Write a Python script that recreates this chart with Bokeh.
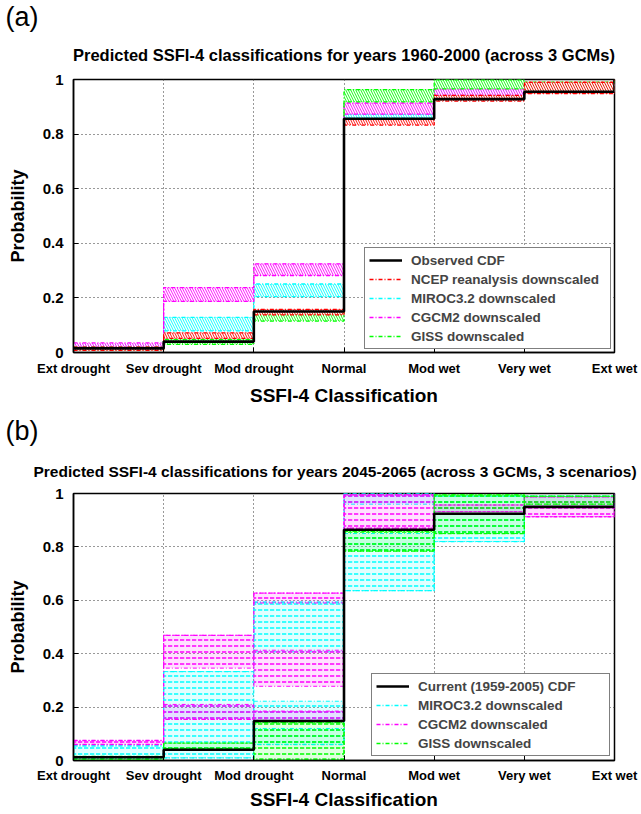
from bokeh.plotting import figure
from bokeh.models import (Range1d, FixedTicker, Title, Legend, LegendItem,
                          NumeralTickFormatter)
from bokeh.layouts import column
from bokeh.embed import file_html
from bokeh.resources import INLINE

FONT = "Liberation Sans"

# ---------------- data ----------------
CATEGORIES = ["Ext drought", "Sev drought", "Mod drought", "Normal",
              "Mod wet", "Very wet", "Ext wet"]
CAT_X = [0, 1, 2, 3, 4, 5, 6]
Y_TICKS = [0, 0.2, 0.4, 0.6, 0.8, 1]

# Panel (a): predicted CDF per class, 1960-2000 (last class = 1)
A_OBSERVED = [0.015, 0.040, 0.150, 0.856, 0.928, 0.955, 1.0]
A_NCEP_LO = [0.008, 0.052, 0.138, 0.833, 0.921, 0.948, 1.0]
A_NCEP_HI = [0.020, 0.072, 0.158, 0.855, 0.942, 0.990, 1.0]
A_MIROC_LO = [0.015, 0.079, 0.205, 0.858, 0.935, 0.955, 1.0]
A_MIROC_HI = [0.030, 0.129, 0.251, 0.873, 0.960, 0.985, 1.0]
A_CGCM2_LO = [0.020, 0.187, 0.282, 0.873, 0.942, 0.955, 1.0]
A_CGCM2_HI = [0.035, 0.238, 0.325, 0.914, 0.966, 0.985, 1.0]
A_GISS_LO = [0.010, 0.030, 0.115, 0.918, 0.966, 0.960, 1.0]
A_GISS_HI = [0.020, 0.048, 0.153, 0.963, 0.999, 0.990, 1.0]

# Panel (b): 2045-2065, bands of scenario lines (class, low, high)
B_CURRENT = [0.012, 0.040, 0.148, 0.864, 0.924, 0.950, 1.0]
B_MIROC_CLASS = [0, 1, 2, 2, 2, 3, 3, 4, 5]
B_MIROC_LO = [0.008, 0.010, 0.060, 0.150, 0.407, 0.636, 0.960, 0.820, 0.950]
B_MIROC_HI = [0.055, 0.333, 0.120, 0.222, 0.593, 0.850, 1.000, 0.990, 0.990]
B_CGCM2_CLASS = [0, 1, 1, 2, 2, 2, 3, 4, 5]
B_CGCM2_LO = [0.060, 0.154, 0.346, 0.150, 0.278, 0.590, 0.870, 0.932, 0.913]
B_CGCM2_HI = [0.075, 0.210, 0.469, 0.185, 0.413, 0.627, 0.995, 0.957, 0.987]
B_GISS_CLASS = [0, 1, 2, 3, 4, 5]
B_GISS_LO = [0.005, 0.045, 0.005, 0.784, 0.850, 0.960]
B_GISS_HI = [0.015, 0.065, 0.142, 0.858, 0.995, 0.990]
B_EXT_WET = 1.0

TITLE_A = "Predicted SSFI-4 classifications for years 1960-2000 (across 3 GCMs)"
TITLE_B = "Predicted SSFI-4 classifications for years 2045-2065 (across 3 GCMs, 3 scenarios)"

RED, CYAN, MAGENTA, GREEN = "#ff0000", "#00ffff", "#ff00ff", "#00ff00"
DASHDOT = "4 2 1 2"


def base_figure(height, top, bottom, tick_standoff, label_standoff):
    p = figure(width=641, height=height, x_range=Range1d(0, 6),
               y_range=Range1d(0, 1), output_backend="svg",
               toolbar_location=None, min_border_left=73,
               min_border_right=27, min_border_top=top,
               min_border_bottom=bottom, background_fill_color="white")
    p.outline_line_color = "black"
    p.outline_line_width = 1.5
    p.xaxis.ticker = FixedTicker(ticks=CAT_X)
    p.xaxis.major_label_overrides = {k: c for k, c in zip(CAT_X, CATEGORIES)}
    p.yaxis.ticker = FixedTicker(ticks=Y_TICKS)
    p.yaxis.formatter = NumeralTickFormatter(format="0.[0]")
    for ax in (p.xaxis, p.yaxis):
        ax.axis_line_color = "black"
        ax.axis_line_width = 1.5
        ax.major_tick_in = 5
        ax.major_tick_out = 0
        ax.major_tick_line_color = "black"
        ax.minor_tick_line_color = None
        ax.major_label_text_font = FONT
        ax.major_label_text_font_style = "bold"
        ax.major_label_text_color = "black"
        ax.axis_label_text_font = FONT
        ax.axis_label_text_font_style = "bold"
        ax.axis_label_text_color = "black"
    p.xaxis.major_label_text_font_size = "13px"
    p.yaxis.major_label_text_font_size = "15px"
    p.xaxis.major_label_standoff = tick_standoff
    p.yaxis.major_label_standoff = 10
    p.xaxis.axis_label = "SSFI-4 Classification"
    p.yaxis.axis_label = "Probability"
    p.xaxis.axis_label_text_font_size = "19px"
    p.yaxis.axis_label_text_font_size = "18px"
    p.xaxis.axis_label_standoff = label_standoff
    p.yaxis.axis_label_standoff = 12
    for g in (p.xgrid, p.ygrid):
        g.grid_line_color = "#333333"
        g.grid_line_dash = "1 3"
        g.grid_line_width = 1
    return p


def add_titles(p, text, tag, title_kw, tag_standoff):
    p.add_layout(Title(text=text, text_font=FONT, text_font_style="bold",
                       text_color="black", **title_kw), "above")
    p.add_layout(Title(text=tag, align="left", offset=-68, text_font=FONT,
                       text_font_size="27px", text_font_style="normal",
                       text_color="black", standoff=tag_standoff), "above")


def make_legend(p, items, margin, label_width):
    leg = Legend(items=[LegendItem(label=l, renderers=[r]) for l, r in items],
                 location="bottom_right", label_text_font=FONT,
                 label_text_font_size="13.5px", label_text_font_style="bold",
                 glyph_width=33, glyph_height=16, label_height=16,
                 label_width=label_width, label_standoff=9, spacing=3,
                 padding=4, margin=margin, border_line_color="black",
                 border_line_width=1.5, background_fill_alpha=1)
    p.add_layout(leg)


# ---------------- panel (a) ----------------
pa = base_figure(408, 79, 53, 8, 6)
add_titles(pa, TITLE_A, "(a)",
           dict(align="center", text_font_size="16.5px", standoff=31), -7)

a_models = [(A_MIROC_LO, A_MIROC_HI, CYAN), (A_CGCM2_LO, A_CGCM2_HI, MAGENTA),
            (A_GISS_LO, A_GISS_HI, GREEN), (A_NCEP_LO, A_NCEP_HI, RED)]
a_line = {}
for lo, hi, col in a_models:
    pa.quad(left=CAT_X[:-1], right=CAT_X[1:], bottom=lo[:-1], top=hi[:-1],
            fill_color=col, fill_alpha=0.85, line_color=None,
            hatch_pattern="left_diagonal_line", hatch_color="white",
            hatch_scale=5, hatch_weight=1.3)
    r = pa.step(CAT_X, lo, mode="after", line_color=col, line_width=1.3,
                line_dash=DASHDOT)
    pa.step(CAT_X, hi, mode="after", line_color=col, line_width=1.3,
            line_dash=DASHDOT)
    a_line[col] = r
r_obs = pa.step(CAT_X, A_OBSERVED, mode="after", line_color="black",
                line_width=2.6)
make_legend(pa, [("Observed CDF", r_obs),
                 ("NCEP reanalysis downscaled", a_line[RED]),
                 ("MIROC3.2 downscaled", a_line[CYAN]),
                 ("CGCM2 downscaled", a_line[MAGENTA]),
                 ("GISS downscaled", a_line[GREEN])], 3, 195)

# ---------------- panel (b) ----------------
pb = base_figure(404, 85, 49, 7, 3)
add_titles(pb, TITLE_B, "(b)",
           dict(align="left", offset=-40, text_font_size="15.5px", standoff=28), 2)


def envelope(cls, vals, fn):
    out = [fn(v for c, v in zip(cls, vals) if c == k) for k in CAT_X[:-1]]
    return out + [B_EXT_WET]


b_models = [(B_MIROC_CLASS, B_MIROC_LO, B_MIROC_HI, CYAN),
            (B_CGCM2_CLASS, B_CGCM2_LO, B_CGCM2_HI, MAGENTA),
            (B_GISS_CLASS, B_GISS_LO, B_GISS_HI, GREEN)]
b_line = {}
for cls, lo, hi, col in b_models:
    pb.quad(left=cls, right=[c + 1 for c in cls], bottom=lo, top=hi,
            fill_color=col, fill_alpha=0.12, line_color=col, line_width=1,
            line_dash=DASHDOT, hatch_pattern="horizontal_dash",
            hatch_color=col, hatch_scale=6, hatch_weight=1.5)
    r = pb.step(CAT_X, envelope(cls, lo, min), mode="after", line_color=col,
                line_width=1.3, line_dash=DASHDOT)
    pb.step(CAT_X, envelope(cls, hi, max), mode="after", line_color=col,
            line_width=1.3, line_dash=DASHDOT)
    b_line[col] = r
r_cur = pb.step(CAT_X, B_CURRENT, mode="after", line_color="black",
                line_width=2.6)
make_legend(pb, [("Current (1959-2005) CDF", r_cur),
                 ("MIROC3.2 downscaled", b_line[CYAN]),
                 ("CGCM2 downscaled", b_line[MAGENTA]),
                 ("GISS downscaled", b_line[GREEN])], 4, 187)

layout = column(pa, pb)
open("out.html", "w").write(file_html(layout, INLINE))
